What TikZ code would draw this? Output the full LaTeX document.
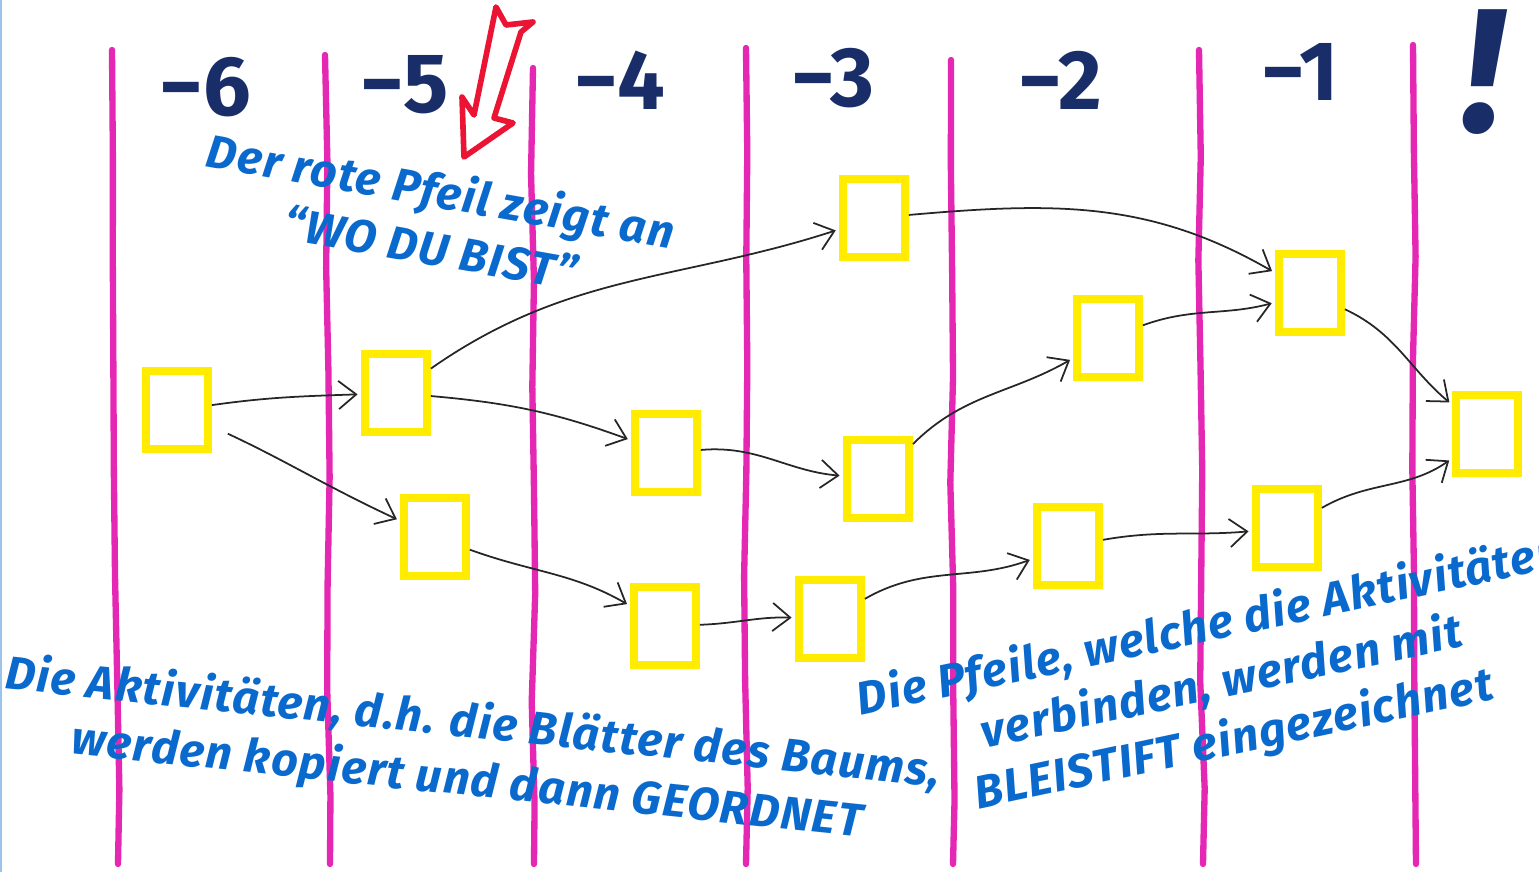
\documentclass[tikz,border=0pt]{standalone}
\usepackage{fontspec}
\setsansfont{Fira Sans}
\newfontfamily\notefont[LetterSpace=3]{Fira Sans}
\usetikzlibrary{arrows.meta, decorations.pathmorphing}
\definecolor{lilac}{RGB}{228, 40, 180}
\definecolor{leafyellow}{RGB}{255, 236, 0}
\definecolor{ink}{RGB}{ 25, 45, 105}
\definecolor{note}{RGB}{ 10,105, 205}
\definecolor{redpen}{RGB}{235, 20, 50}

\tikzset{
  lane/.style={lilac, line width=1.8pt, line cap=round, decorate,
    decoration={random steps, segment length=30pt, amplitude=0.7pt}},
  leaf/.style={draw=leafyellow, line width=2.2pt, minimum width=6.2mm,
    minimum height=7.8mm, inner sep=0pt},
  pencil/.style={black!85, line width=0.5pt,
    -{Straight Barb[length=5pt, width=8pt]}, shorten >=1pt},
  colnum/.style={ink, font=\sffamily\bfseries\fontsize{24}{24}\selectfont},
  remark/.style={note, align=center,
    font=\notefont\bfseries\itshape\fontsize{13.2}{16.5}\selectfont},
}

\begin{document}
\begin{tikzpicture}[x=0.01cm, y=0.01cm]
    \useasboundingbox (0,0) rectangle (1539,872);
    \clip (0,0) rectangle (1539,872);
    \pgfmathsetseed{11}

    %% thin border on the left
    \draw[note!40, line width=0.6pt] (1,0) -- (1,872);

    %% --- Magenta lanes between the columns ---
    \foreach \x/\top/\drift in {112/822/6, 325/817/5, 533/804/1, 746/824/0, 951/812/2, 1199/822/4, 1413/827/3}
        \draw[lane] (\x,\top) -- (\x+\drift,8);

    %% --- Column numbers ---
    \node[colnum] (n6) at (205,785) {−6};
    \node[colnum] (n5) at (405,787) {−5};
    \node[colnum] (n4) at (620,792) {−4};
    \node[colnum] (n3) at (833,794) {−3};
    \node[colnum] (n2) at (1060,792) {−2};
    \node[colnum] (n1) at (1300,800) {−1};
    \node[ink, font=\sffamily\bfseries\itshape\fontsize{50}{50}\selectfont] (now) at (1483,800) {!};

    %% --- Red arrow (where you are) ---
    \draw[redpen, line width=1.6pt, line join=round]
        (496,865) -- (506,847) -- (533,850) -- (521,840) -- (494,754)
        -- (513,749) -- (464,715) -- (462,775) -- (474,757) -- cycle;

    %% --- Leaves (activities) ---
    \node[leaf] (A) at (177,462) {};
    \node[leaf] (B) at (396,479) {};
    \node[leaf] (C) at (435,335) {};
    \node[leaf] (D) at (666,419) {};
    \node[leaf] (E) at (665,246) {};
    \node[leaf] (F) at (874,654) {};
    \node[leaf] (G) at (878,393) {};
    \node[leaf] (H) at (830,253) {};
    \node[leaf] (I) at (1108,534) {};
    \node[leaf] (J) at (1068,326) {};
    \node[leaf] (K) at (1310,579) {};
    \node[leaf] (L) at (1287,344) {};
    \node[leaf] (M) at (1487,438) {};

    %% --- Pencil arrows ---
    \draw[pencil] (A) to[out=8, in=182] (B);
    \draw[pencil, shorten <=5pt] (A) to[out=-25, in=155] (C);
    \draw[pencil] (B) to[out=35, in=198] (F);
    \draw[pencil] (B) to[out=-5, in=160] (D);
    \draw[pencil] (C) to[out=-20, in=150] (E);
    \draw[pencil] (D) to[out=5, in=175] (G);
    \draw[pencil] (E) to[out=2, in=178] (H);
    \draw[pencil] (F) to[out=5, in=150] (K);
    \draw[pencil] (G) to[out=45, in=210] (I);
    \draw[pencil] (H) to[out=30, in=200] (J);
    \draw[pencil] (I) to[out=20, in=195] (K);
    \draw[pencil] (J) to[out=10, in=185] (L);
    \draw[pencil] (K) to[out=-25, in=140] (M);
    \draw[pencil] (L) to[out=30, in=215] (M);

    %% --- Notes ---
    \node[remark, rotate=-10] (where) at (436,654) {Der rote Pfeil zeigt an\\“WO DU BIST”};
    \node[remark, rotate=-6] (copied) at (470,119) {Die Aktivitäten, d.h. die Blätter des Baums,\\werden kopiert und dann GEORDNET};
    \node[remark, rotate=12] (drawn) at (1222,188) {Die Pfeile, welche die Aktivitäten\\verbinden, werden mit\\BLEISTIFT eingezeichnet};
\end{tikzpicture}
\end{document}
